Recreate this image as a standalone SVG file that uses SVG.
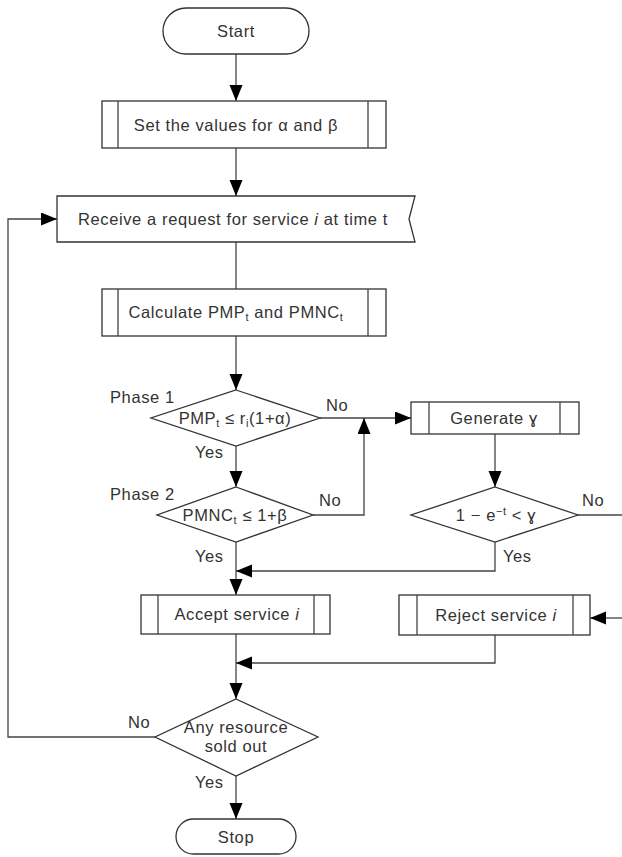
<svg xmlns="http://www.w3.org/2000/svg" width="622" height="857" viewBox="0 0 622 857">
<style>
.s{fill:#fff;stroke:#333;stroke-width:1.3}
.l{fill:none;stroke:#444;stroke-width:1.3}
text{font-family:"Liberation Sans",Arial,sans-serif;font-size:16.5px;letter-spacing:0.6px;fill:#333}
.c{text-anchor:middle;dominant-baseline:central}
</style>
<defs>
<marker id="a" markerUnits="userSpaceOnUse" markerWidth="18" markerHeight="14" refX="16" refY="6.5" orient="auto">
<path d="M0,0 L16,6.5 L0,13 Z" fill="#000"/>
</marker>
</defs>
<rect width="622" height="857" fill="#fff"/>
<g id="connectors">
<path class="l" d="M236,54 V101" marker-end="url(#a)"/>
<path class="l" d="M236,148 V196" marker-end="url(#a)"/>
<path class="l" d="M236,242 V289"/>
<path class="l" d="M236,336 V390" marker-end="url(#a)"/>
<path class="l" d="M236,446 V487" marker-end="url(#a)"/>
<path class="l" d="M320,418 H411" marker-end="url(#a)"/>
<path class="l" d="M313,515 H364 V418" marker-end="url(#a)"/>
<path class="l" d="M495,434 V487" marker-end="url(#a)"/>
<path class="l" d="M578,515 H622"/>
<path class="l" d="M495,542 V571 H236" marker-end="url(#a)"/>
<path class="l" d="M236,542 V595" marker-end="url(#a)"/>
<path class="l" d="M622,618 H590" marker-end="url(#a)"/>
<path class="l" d="M236,634 V699" marker-end="url(#a)"/>
<path class="l" d="M495,635 V663 H236" marker-end="url(#a)"/>
<path class="l" d="M155,737 H8 V219 H57" marker-end="url(#a)"/>
<path class="l" d="M236,776 V819" marker-end="url(#a)"/>
</g>
<g id="labels">
<text x="110" y="403">Phase 1</text>
<text x="110" y="500">Phase 2</text>
<text x="326" y="411">No</text>
<text x="319" y="506">No</text>
<text x="582" y="506">No</text>
<text x="195" y="458">Yes</text>
<text x="195" y="562">Yes</text>
<text x="503" y="562">Yes</text>
<text x="128" y="728">No</text>
<text x="195" y="788">Yes</text>
</g>
<g id="start">
<rect class="s" x="163" y="8" width="146" height="46" rx="23"/>
<text class="c" x="236" y="31">Start</text>
</g>
<g id="set">
<rect class="s" x="102" y="101" width="284" height="47"/>
<path class="l" d="M118,101 V148 M368,101 V148"/>
<text class="c" x="236" y="124.5">Set the values for α and β</text>
</g>
<g id="receive">
<polygon class="s" points="57,196 415,196 409,219 415,242 57,242"/>
<text class="c" x="233" y="219">Receive a request for service <tspan font-style="italic">i</tspan> at time t</text>
</g>
<g id="calc">
<rect class="s" x="102" y="289" width="284" height="47"/>
<path class="l" d="M118,289 V336 M368,289 V336"/>
<text x="236" y="318" text-anchor="middle">Calculate PMP<tspan font-size="11" dy="3">t</tspan><tspan dy="-3"> and PMNC</tspan><tspan font-size="11" dy="3">t</tspan></text>
</g>
<g id="phase1">
<polygon class="s" points="236,390 320,418 236,446 151,418"/>
<text x="235" y="424" text-anchor="middle">PMP<tspan font-size="11" dy="3">t</tspan><tspan dy="-3"> ≤ r</tspan><tspan font-size="11" dy="3">i</tspan><tspan dy="-3">(1+α)</tspan></text>
</g>
<g id="generate">
<rect class="s" x="411" y="402" width="168" height="32"/>
<path class="l" d="M429,402 V434 M560,402 V434"/>
<text class="c" x="494" y="418">Generate ɣ</text>
</g>
<g id="phase2">
<polygon class="s" points="236,487 313,515 236,542 157,515"/>
<text x="235" y="521" text-anchor="middle">PMNC<tspan font-size="11" dy="3">t</tspan><tspan dy="-3"> ≤ 1+β</tspan></text>
</g>
<g id="check">
<polygon class="s" points="495,487 578,515 495,542 411,515"/>
<text x="496" y="521" text-anchor="middle">1 − e<tspan font-size="11" dy="-6">−t</tspan><tspan dy="6"> &lt; ɣ</tspan></text>
</g>
<g id="accept">
<rect class="s" x="141" y="595" width="189" height="39"/>
<path class="l" d="M158,595 V634 M314,595 V634"/>
<text class="c" x="237" y="614">Accept service <tspan font-style="italic">i</tspan></text>
</g>
<g id="reject">
<rect class="s" x="399" y="595" width="191" height="40"/>
<path class="l" d="M417,595 V635 M573,595 V635"/>
<text class="c" x="496" y="615">Reject service <tspan font-style="italic">i</tspan></text>
</g>
<g id="soldout">
<polygon class="s" points="236,699 318,737 236,776 155,737"/>
<text x="236" y="733" text-anchor="middle">Any resource</text>
<text x="236" y="752" text-anchor="middle">sold out</text>
</g>
<g id="stop">
<rect class="s" x="176" y="819" width="120" height="35" rx="17.5"/>
<text class="c" x="236" y="836.5">Stop</text>
</g>
</svg>
